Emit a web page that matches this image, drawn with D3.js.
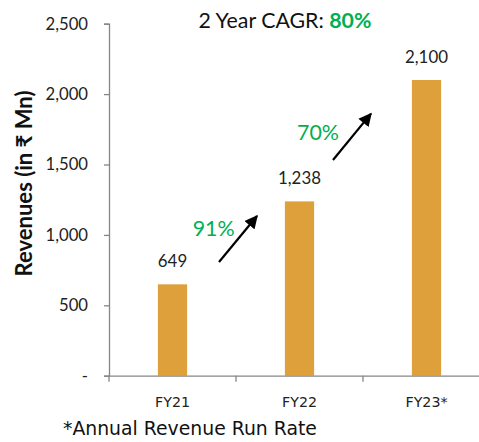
<!DOCTYPE html>
<html>
<head>
<meta charset="utf-8">
<script src="https://cdn.jsdelivr.net/npm/d3@7"></script>
<style>
  html, body { margin: 0; padding: 0; background: #fff; }
  svg { display: block; }
</style>
</head>
<body>
<svg id="chart" width="479" height="442"></svg>
<script>
const categories = ["FY21", "FY22", "FY23*"];
const revenues = [649, 1238, 2100];
const valueLabels = ["649", "1,238", "2,100"];
const yTicks = [0, 500, 1000, 1500, 2000, 2500];
const yTickLabels = ["-", "500", "1,000", "1,500", "2,000", "2,500"];
const growthLabels = ["91%", "70%"];
// arrow anchor values (start, end) on y-scale for each growth arrow
const growthArrowStart = [807, 1532];
const growthArrowEnd = [1134, 1861];
const growthLabelValue = [994, 1672];
const cagrLabel = "2 Year CAGR: ";
const cagrValue = "80%";
const yTitle = "Revenues (in ₹ Mn)";
const footnote = "*Annual Revenue Run Rate";

const svg = d3.select("#chart");
const mLeft = 109, mRight = 490, mTop = 23.7, mBottom = 375.7;

const x = d3.scaleBand().domain(categories).range([mLeft, mRight])
  .paddingInner(0.77).paddingOuter(0.385);
const xb = d3.scaleBand().domain(categories).range([mLeft, mRight]).padding(0);
const y = d3.scaleLinear().domain([0, 2500]).range([mBottom, mTop]);

const green = "#00B050";
const axisColor = "#868686";
const calibri = "Lato, 'Open Sans', sans-serif";
const tahoma = "'DejaVu Sans', Verdana, sans-serif";

// fit font size of a text node so its rendered width matches target
function fit(sel, target) {
  const n = sel.node();
  const fs = parseFloat(sel.attr("font-size"));
  const w = n.getComputedTextLength();
  if (w > 0) sel.attr("font-size", (fs * target / w).toFixed(2));
  return parseFloat(sel.attr("font-size"));
}

// Bars
svg.append("g").selectAll("rect").data(revenues).join("rect")
  .attr("x", (d, i) => x(categories[i]))
  .attr("y", d => y(d))
  .attr("width", x.bandwidth())
  .attr("height", d => y(0) - y(d))
  .attr("fill", "#DDA03A");

// Y axis
const yAxis = d3.axisLeft(y).tickValues(yTicks)
  .tickFormat((d, i) => yTickLabels[i]).tickSize(5).tickPadding(16);
const gy = svg.append("g").attr("transform", `translate(${mLeft},0)`).call(yAxis);
gy.select(".domain").attr("stroke", axisColor).attr("stroke-width", 1.3);
gy.selectAll(".tick line").attr("stroke", axisColor).attr("stroke-width", 1.3);
const yt = gy.selectAll(".tick text").attr("fill", "#222").attr("font-family", calibri)
  .attr("font-size", 16);
const yfs = fit(yt.filter((d, i) => i === 5), 42.5);
yt.attr("font-size", yfs);

// X axis
const xAxis = d3.axisBottom(xb).tickSize(0).tickPadding(21);
const gx = svg.append("g").attr("transform", `translate(0,${mBottom})`).call(xAxis);
gx.select(".domain").attr("stroke", axisColor).attr("stroke-width", 1.3);
const xt = gx.selectAll(".tick text").attr("fill", "#222").attr("font-family", tahoma)
  .attr("font-size", 13.5);
const xfs = fit(xt.filter((d, i) => i === 0), 35);
xt.attr("font-size", xfs);
// boundary ticks
gx.append("g").selectAll("line").data(categories).join("line")
  .attr("x1", d => xb(d)).attr("x2", d => xb(d))
  .attr("y1", 0).attr("y2", 6)
  .attr("stroke", axisColor).attr("stroke-width", 1.3);

// Value labels
const vl = svg.append("g").selectAll("text").data(revenues).join("text")
  .attr("x", (d, i) => x(categories[i]) + x.bandwidth() / 2)
  .attr("y", d => y(d) - 17)
  .attr("text-anchor", "middle")
  .attr("font-family", calibri).attr("font-size", 16).attr("fill", "#222")
  .text((d, i) => valueLabels[i]);
const vfs = fit(vl.filter((d, i) => i === 2), 43);
vl.attr("font-size", vfs);

// Growth arrows
const defs = svg.append("defs");
defs.append("marker").attr("id", "ah").attr("viewBox", "0 0 10 10")
  .attr("refX", 9).attr("refY", 5).attr("markerWidth", 6.2).attr("markerHeight", 6)
  .attr("markerUnits", "strokeWidth").attr("orient", "auto")
  .append("path").attr("d", "M0,0 L10,5 L0,10 z").attr("fill", "#000");

const arrowX = [[219, 257], [333, 371]];
const labelX = [213.7, 318];
const gl = svg.append("g");
growthLabels.forEach((g, i) => {
  const x1 = arrowX[i][0], x2 = arrowX[i][1];
  svg.append("line")
    .attr("x1", x1).attr("y1", y(growthArrowStart[i]))
    .attr("x2", x2).attr("y2", y(growthArrowEnd[i]))
    .attr("stroke", "#000").attr("stroke-width", 2.2)
    .attr("marker-end", "url(#ah)");
  gl.append("text")
    .attr("x", labelX[i])
    .attr("y", y(growthLabelValue[i]))
    .attr("text-anchor", "middle")
    .attr("font-family", calibri).attr("font-size", 21).attr("fill", green)
    .text(g);
});
const gtexts = gl.selectAll("text");
const gfs = fit(gtexts.filter((d, i) => i === 1), 42);
gtexts.attr("font-size", gfs);

// Title
const t = svg.append("text").attr("x", 285).attr("y", 27.5)
  .attr("text-anchor", "middle").attr("font-family", calibri).attr("font-size", 19)
  .attr("fill", "#111");
t.append("tspan").text(cagrLabel);
t.append("tspan").attr("fill", green).attr("font-weight", "bold").text(cagrValue);
fit(t, 173);

// Y title
const ytl = svg.append("text")
  .attr("transform", `translate(32,${183.5}) rotate(-90)`)
  .attr("text-anchor", "middle")
  .attr("font-family", calibri).attr("font-size", 18).attr("font-weight", "bold")
  .attr("fill", "#111")
  .text(yTitle);
fit(ytl, 186);

// Footnote
const fn = svg.append("text").attr("x", 63).attr("y", 435)
  .attr("font-family", tahoma).attr("font-size", 18).attr("fill", "#111")
  .text(footnote);
fit(fn, 254);
</script>
</body>
</html>
